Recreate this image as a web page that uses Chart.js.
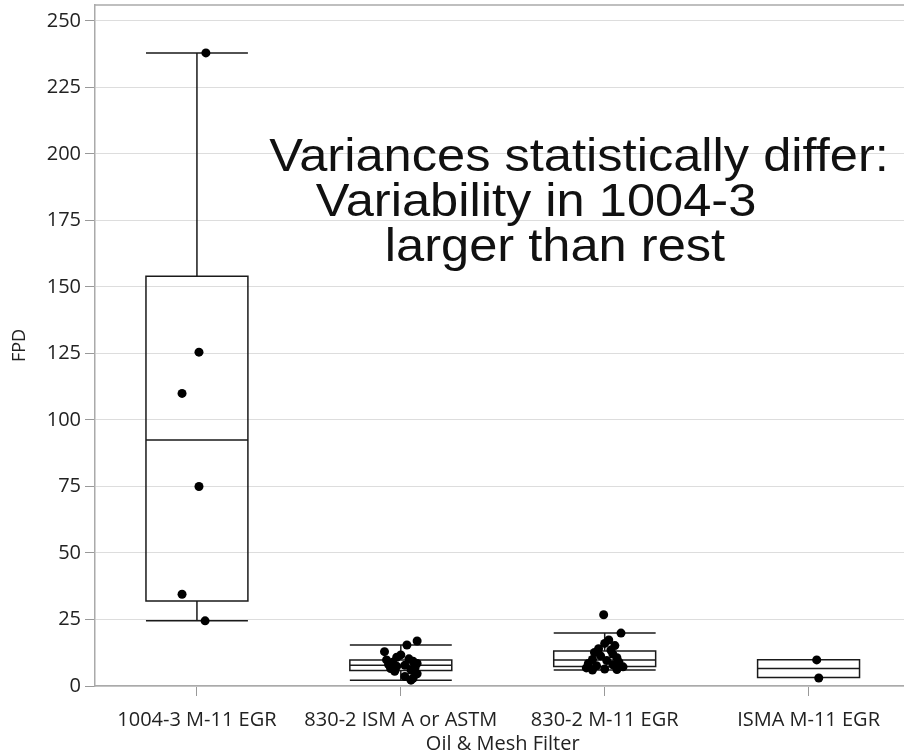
<!DOCTYPE html>
<html>
<head>
<meta charset="utf-8">
<script src="https://cdn.jsdelivr.net/npm/chart.js@4.4.1/dist/chart.umd.min.js"></script>
<style>
  html, body { margin: 0; padding: 0; background: #fff; overflow: hidden; }
  #wrap { width: 915px; height: 754px; }
</style>
</head>
<body>
<div id="wrap"><canvas id="fpdChart"></canvas></div>
<script>
const groups = ['1004-3 M-11 EGR', '830-2 ISM A or ASTM', '830-2 M-11 EGR', 'ISMA M-11 EGR'];
const yTicks = [0, 25, 50, 75, 100, 125, 150, 175, 200, 225, 250];

// box statistics per group
const q1 = [32, 5.8, 7.3, 3.2];
const medians = [92.5, 7.8, 9.8, 6.6];
const q3 = [154, 9.8, 13.2, 9.9];
const whiskerLow = [24.5, 2.2, 6.0, 3.2];
const whiskerHigh = [238, 15.4, 19.9, 9.9];

// FPD readings per group, with horizontal jitter in category units
const fpd1004 = [238, 125.5, 110, 75, 34.5, 24.5];
const jit1004 = [0.044, 0.01, -0.073, 0.01, -0.073, 0.04];

const fpdIsmA = [16.9, 15.4, 12.9, 11.7, 10.8, 10.2, 9.8, 9.3, 8.9, 8.5, 8.1, 7.8, 7.4, 7.0, 6.6, 6.0, 5.5, 4.6, 3.6, 2.9, 2.2];
const jitIsmA = [0.08, 0.03, -0.08, 0.0, -0.02, 0.04, -0.07, 0.06, -0.04, 0.08, -0.06, 0.02, -0.02, 0.07, -0.05, 0.05, -0.03, 0.08, 0.02, 0.06, 0.05];

const fpd830 = [26.8, 19.9, 17.3, 16.0, 15.2, 14.0, 13.5, 12.6, 12.0, 11.3, 10.6, 10.0, 9.6, 9.0, 8.5, 8.0, 7.6, 7.2, 6.8, 6.4, 6.2, 6.0];
const jit830 = [-0.005, 0.08, 0.02, 0.0, 0.05, -0.03, 0.03, -0.05, 0.04, -0.02, 0.06, -0.06, 0.01, 0.07, -0.08, 0.04, -0.04, 0.09, -0.09, 0.0, 0.06, -0.06];

const fpdIsma = [9.8, 3.0];
const jitIsma = [0.04, 0.05];

const groupValues = [fpd1004, fpdIsmA, fpd830, fpdIsma];
const groupJitter = [jit1004, jitIsmA, jit830, jitIsma];

const points = [];
groupValues.forEach((vals, g) => {
  vals.forEach((v, i) => points.push({ x: g + groupJitter[g][i], y: v }));
});

const FONT = "'Open Sans', sans-serif";

// boxes, medians and whiskers under the points
const boxPlugin = {
  id: 'boxes',
  beforeDatasetsDraw(chart) {
    const { ctx, scales: { x, y } } = chart;
    ctx.save();
    ctx.strokeStyle = '#1a1a1a';
    ctx.lineWidth = 1.5;
    groups.forEach((_, g) => {
      const xc = x.getPixelForValue(g);
      const x0 = x.getPixelForValue(g - 0.25);
      const x1 = x.getPixelForValue(g + 0.25);
      const yq1 = y.getPixelForValue(q1[g]);
      const yq3 = y.getPixelForValue(q3[g]);
      const ym = y.getPixelForValue(medians[g]);
      const ylo = y.getPixelForValue(whiskerLow[g]);
      const yhi = y.getPixelForValue(whiskerHigh[g]);
      ctx.beginPath();
      ctx.rect(x0, yq3, x1 - x0, yq1 - yq3);
      ctx.moveTo(x0, ym); ctx.lineTo(x1, ym);
      ctx.moveTo(xc, yq3); ctx.lineTo(xc, yhi);
      ctx.moveTo(xc, yq1); ctx.lineTo(xc, ylo);
      ctx.moveTo(x0, yhi); ctx.lineTo(x1, yhi);
      ctx.moveTo(x0, ylo); ctx.lineTo(x1, ylo);
      ctx.stroke();
    });
    ctx.restore();
  }
};

// frame line along the top of the plot
const framePlugin = {
  id: 'frame',
  beforeDatasetsDraw(chart) {
    const { ctx, chartArea: a } = chart;
    ctx.save();
    ctx.strokeStyle = '#aaaaaa';
    ctx.lineWidth = 1.5;
    ctx.beginPath();
    ctx.moveTo(a.left, a.top);
    ctx.lineTo(a.right, a.top);
    ctx.stroke();
    ctx.restore();
  }
};

// text box over the plot
const noteLines = ['Variances statistically differ:', 'Variability in 1004-3', 'larger than rest'];
const noteCenters = [579, 536, 555];
const notePlugin = {
  id: 'note',
  afterDraw(chart) {
    const { ctx } = chart;
    noteLines.forEach((t, i) => {
      ctx.save();
      ctx.fillStyle = '#111';
      ctx.font = "46px 'Liberation Sans', Arial, sans-serif";
      ctx.textAlign = 'center';
      ctx.textBaseline = 'alphabetic';
      ctx.translate(noteCenters[i], 171 + i * 45);
      ctx.scale(1.1, 1);
      ctx.fillText(t, 0, 0);
      ctx.restore();
    });
  }
};

new Chart(document.getElementById('fpdChart'), {
  type: 'scatter',
  data: {
    datasets: [{
      data: points,
      backgroundColor: '#000',
      borderWidth: 0,
      pointRadius: 4.5,
      pointHoverRadius: 4.5
    }]
  },
  options: {
    responsive: true,
    maintainAspectRatio: false,
    animation: false,
    layout: { padding: { top: 5, right: 1, left: 0, bottom: 0 } },
    plugins: { legend: { display: false }, tooltip: { enabled: false } },
    scales: {
      x: {
        type: 'linear',
        min: -0.5,
        max: 3.5,
        afterBuildTicks: sc => { sc.ticks = groups.map((_, i) => ({ value: i })); },
        afterFit: sc => { sc.height = 68; sc.paddingLeft = 0; sc.paddingRight = 0; },
        ticks: {
          autoSkip: false,
          maxRotation: 0,
          padding: 12,
          color: '#222',
          font: { family: FONT, size: 20 },
          callback: v => groups[v]
        },
        grid: { drawOnChartArea: false, tickLength: 10, color: '#999', tickColor: '#999' },
        border: { color: '#aaaaaa', width: 1.5 },
        title: {
          display: true,
          text: 'Oil & Mesh Filter',
          color: '#222',
          font: { family: FONT, size: 20, lineHeight: 1 },
          padding: { top: 0, bottom: 0 }
        }
      },
      y: {
        min: 0,
        max: 256,
        afterBuildTicks: sc => { sc.ticks = yTicks.map(v => ({ value: v })); },
        afterFit: sc => { sc.width = 95; sc.paddingTop = 0; sc.paddingBottom = 0; },
        ticks: {
          padding: 4,
          color: '#222',
          font: { family: FONT, size: 20 }
        },
        grid: { color: '#dddddd', tickLength: 10, tickColor: '#999' },
        border: { color: '#aaaaaa', width: 1.5 },
        title: {
          display: true,
          text: 'FPD',
          color: '#222',
          font: { family: FONT, size: 18 },
          padding: { top: 9, bottom: 0 }
        }
      }
    }
  },
  plugins: [framePlugin, boxPlugin, notePlugin]
});
</script>
</body>
</html>
